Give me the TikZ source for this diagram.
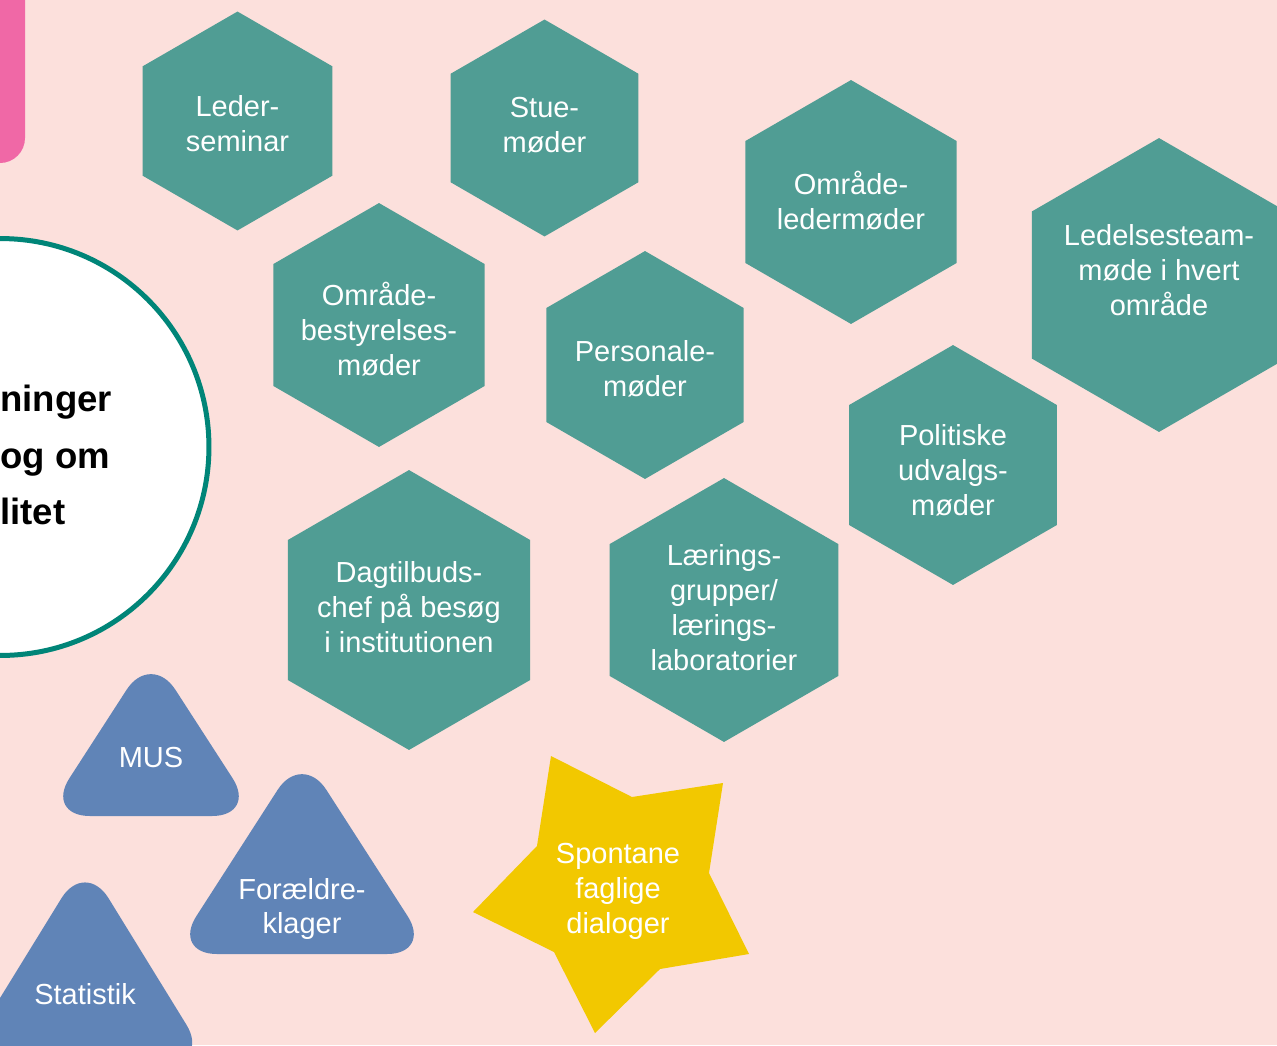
\documentclass[tikz,border=0pt]{standalone}
\usepackage{fontspec}
\setmainfont{Liberation Sans}
\usetikzlibrary{shapes.geometric}
\definecolor{baggrund}{RGB}{252,224,220}
\definecolor{hexgroen}{RGB}{80,157,148}
\definecolor{cirkelkant}{RGB}{0,133,120}
\definecolor{trekantblaa}{RGB}{96,132,183}
\definecolor{stjernegul}{RGB}{242,200,0}
\definecolor{pinkbjelke}{RGB}{240,104,166}
\begin{document}
\begin{tikzpicture}[x=0.02cm, y=-0.02cm, line join=round,
	hexa/.style={regular polygon, regular polygon sides=6, shape border rotate=30, fill=hexgroen, inner sep=0pt},
	hvidtekst/.style={text=white, align=center, font=\fontsize{16.5}{19.9}\selectfont, inner sep=0pt},
	trekant/.style={fill=trekantblaa, rounded corners=0.9cm}]
	\useasboundingbox (0,0) rectangle (1277,1045);
	\fill[baggrund] (0,0) rectangle (1277,1045);
	% pink bjaelke i hjoernet
	\fill[pinkbjelke, rounded corners=0.5cm] (-60,-60) rectangle (25,163);
	% cirklen til venstre
	\node[circle, draw=cirkelkant, line width=0.1cm, fill=white, minimum size=8.34cm] (cirkel) at (0.5,447) {};
	\node[anchor=west, align=left, inner sep=0pt, font=\bfseries\fontsize{20.8}{32.4}\selectfont] (cirkeltekst) at (0,455) {ninger\\og om\\litet};
	% sekskanter: navn/x/y/radius/tekst-y/tekst
	\foreach \nm/\x/\y/\rad/\ty/\txt in {
		lederseminar/237.5/121/109.5/124/{Leder-\\seminar},
		stuemoder/544.5/128/108.5/125/{Stue-\\møder},
		omraadeleder/851/202/122/201/{Område-\\ledermøder},
		ledelsesteam/1159/285/147/270/{Ledelsesteam-\\møde i hvert\\område},
		bestyrelse/379/325/122/329/{Område-\\bestyrelses-\\møder},
		personale/645/365/114/369/{Personale-\\møder},
		politiske/953/465/120/470/{Politiske\\udvalgs-\\møder},
		dagtilbud/409/610/140/607/{Dagtilbuds-\\chef på besøg\\i institutionen},
		laerings/724/610/132/608/{Lærings-\\grupper/\\lærings-\\laboratorier}}
	{
		\node[hexa, minimum size=\rad*0.04cm] (\nm) at (\x,\y) {};
		\node[hvidtekst] (\nm-tekst) at (\x,\ty) {\txt};
	}
	% trekanter
	\fill[trekant] (151,816) -- (45,816) -- (151,652) -- (257,816) -- cycle;
	\node[hvidtekst] (mus) at (151,758) {MUS};
	\fill[trekant] (302,954) -- (172,954) -- (302,752) -- (432,954) -- cycle;
	\node[hvidtekst] (klager) at (302,909) {Forældre-\\klager};
	\fill[trekant] (85,1063) -- (-40,1063) -- (85,860) -- (210,1063) -- cycle;
	\node[hvidtekst] (statistik) at (85,994) {Statistik};
	% stjernen
	\fill[stjernegul] (551,756) -- (632,797) -- (723,783) -- (709,873) -- (749,954) -- (660,969) -- (595,1033) -- (554,952) -- (473,912) -- (537,846) -- cycle;
	\node[hvidtekst] (dialoger) at (618,891) {Spontane\\faglige\\dialoger};
\end{tikzpicture}
\end{document}
